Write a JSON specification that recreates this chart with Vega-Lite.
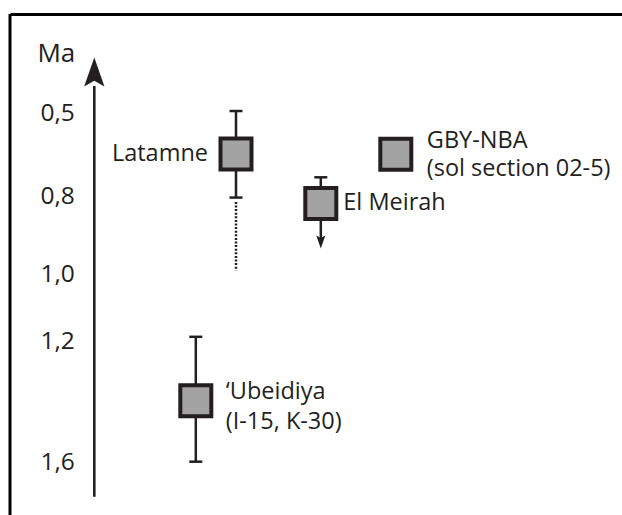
{
  "$schema": "https://vega.github.io/schema/vega-lite/v6.json",
  "width": 612,
  "height": 501,
  "padding": {"left": 10, "top": 14, "right": 0, "bottom": 0},
  "autosize": {"type": "none"},
  "background": "white",
  "config": {"view": {"stroke": null}, "font": "Open Sans"},
  "resolve": {"axis": {"x": "independent", "y": "independent"}},
  "datasets": {
    "sites": [
      {"site": "Latamne", "x": 4.52, "age": 0.647, "label": "Latamne"},
      {"site": "El Meirah", "x": 6.216, "age": 0.819, "label": "El Meirah"},
      {"site": "GBY-NBA", "x": 7.716, "age": 0.648, "label": ["GBY-NBA", "(sol section 02-5)"]},
      {"site": "Ubeidiya", "x": 3.716, "age": 1.397, "label": ["‘Ubeidiya", "(I-15, K-30)"]}
    ],
    "ranges": [
      {"site": "Latamne", "x": 4.52, "age": 0.491, "age2": 0.804},
      {"site": "El Meirah", "x": 6.216, "age": 0.732, "age2": 0.91},
      {"site": "Ubeidiya", "x": 3.716, "age": 1.186, "age2": 1.599}
    ],
    "caps": [
      {"site": "Latamne", "x": 4.52, "age": 0.491},
      {"site": "Latamne", "x": 4.52, "age": 0.804},
      {"site": "El Meirah", "x": 6.216, "age": 0.732},
      {"site": "Ubeidiya", "x": 3.716, "age": 1.186},
      {"site": "Ubeidiya", "x": 3.716, "age": 1.599}
    ],
    "extension": [
      {"site": "Latamne", "x": 4.52, "age": 0.815, "age2": 0.99}
    ],
    "limits": [
      {"site": "El Meirah", "x": 6.216, "age": 0.917}
    ]
  },
  "layer": [
    {
      "data": {"values": [{}]},
      "mark": {"type": "rule", "color": "#000000", "strokeWidth": 3},
      "encoding": {
        "x": {"datum": 0, "type": "quantitative",
          "scale": {"domain": [0, 12.24], "nice": false, "zero": false},
          "axis": {"orient": "top", "domain": true, "domainColor": "#000000", "domainWidth": 3, "ticks": false, "labels": false, "grid": false, "title": null}}
      }
    },
    {
      "data": {"values": [{}]},
      "mark": {"type": "rule", "color": "#231f20", "strokeWidth": 2.6},
      "encoding": {
        "x": {"datum": 1.686, "type": "quantitative", "scale": {"domain": [0, 12.24], "nice": false, "zero": false}, "axis": null},
        "y": {"datum": 1.715, "type": "quantitative", "scale": {"domain": [0.5, 0.8, 1.0, 1.2, 1.6], "range": [99.5, 182, 260.5, 327.5, 448], "nice": false, "zero": false}, "axis": null},
        "y2": {"datum": 0.4}
      }
    },
    {
      "data": {"values": [{}]},
      "mark": {"type": "point", "shape": "M0,-1L0.7,1L0,0.6L-0.7,1Z", "size": 841, "filled": true, "color": "#231f20", "opacity": 1},
      "encoding": {
        "x": {"datum": 1.686, "type": "quantitative", "scale": {"domain": [0, 12.24], "nice": false, "zero": false}, "axis": null},
        "y": {"datum": 0.349, "type": "quantitative", "scale": {"domain": [0.5, 0.8, 1.0, 1.2, 1.6], "range": [99.5, 182, 260.5, 327.5, 448], "nice": false, "zero": false}, "axis": null}
      }
    },
    {
      "data": {"name": "ranges"},
      "mark": {"type": "rule", "color": "#231f20", "strokeWidth": 2.5},
      "encoding": {
        "x": {"field": "x", "type": "quantitative", "scale": {"domain": [0, 12.24], "nice": false, "zero": false}, "axis": null},
        "y": {"field": "age", "type": "quantitative", "scale": {"domain": [0.5, 0.8, 1.0, 1.2, 1.6], "range": [99.5, 182, 260.5, 327.5, 448], "nice": false, "zero": false}, "axis": null},
        "y2": {"field": "age2"}
      }
    },
    {
      "data": {"name": "extension"},
      "mark": {"type": "rule", "color": "#231f20", "strokeWidth": 2.5, "strokeDash": [2, 1.6]},
      "encoding": {
        "x": {"field": "x", "type": "quantitative", "scale": {"domain": [0, 12.24], "nice": false, "zero": false}, "axis": null},
        "y": {"field": "age", "type": "quantitative", "scale": {"domain": [0.5, 0.8, 1.0, 1.2, 1.6], "range": [99.5, 182, 260.5, 327.5, 448], "nice": false, "zero": false}, "axis": null},
        "y2": {"field": "age2"}
      }
    },
    {
      "data": {"name": "caps"},
      "mark": {"type": "point", "shape": "M-1,0L1,0", "size": 169, "filled": false, "stroke": "#231f20", "strokeWidth": 2.5, "opacity": 1},
      "encoding": {
        "x": {"field": "x", "type": "quantitative", "scale": {"domain": [0, 12.24], "nice": false, "zero": false}, "axis": null},
        "y": {"field": "age", "type": "quantitative", "scale": {"domain": [0.5, 0.8, 1.0, 1.2, 1.6], "range": [99.5, 182, 260.5, 327.5, 448], "nice": false, "zero": false}, "axis": null}
      }
    },
    {
      "data": {"name": "limits"},
      "mark": {"type": "point", "shape": "M0,1L0.7,-1L0,-0.6L-0.7,-1Z", "size": 169, "filled": true, "color": "#231f20", "opacity": 1},
      "encoding": {
        "x": {"field": "x", "type": "quantitative", "scale": {"domain": [0, 12.24], "nice": false, "zero": false}, "axis": null},
        "y": {"field": "age", "type": "quantitative", "scale": {"domain": [0.5, 0.8, 1.0, 1.2, 1.6], "range": [99.5, 182, 260.5, 327.5, 448], "nice": false, "zero": false}, "axis": null}
      }
    },
    {
      "data": {"name": "sites"},
      "mark": {"type": "point", "shape": "square", "size": 961, "filled": true, "fill": "#a3a3a3", "stroke": "#231f20", "strokeWidth": 4, "opacity": 1},
      "encoding": {
        "x": {"field": "x", "type": "quantitative", "scale": {"domain": [0, 12.24], "nice": false, "zero": false}, "axis": null},
        "y": {"field": "age", "type": "quantitative", "scale": {"domain": [0.5, 0.8, 1.0, 1.2, 1.6], "range": [99.5, 182, 260.5, 327.5, 448], "nice": false, "zero": false},
          "axis": {"values": [0.5, 0.8, 1.0, 1.2, 1.6], "labelExpr": "replace(format(datum.value, '.1f'), '.', ',')", "domain": false, "ticks": false, "grid": false, "offset": -84.3, "labelPadding": 20, "labelFont": "Open Sans", "labelFontSize": 24.5, "labelColor": "#231f20", "labelFlush": false, "labelOverlap": false, "labelBaseline": "middle",
            "title": "Ma", "titleAngle": 0, "titleAlign": "right", "titleBaseline": "alphabetic", "titleX": -19.5, "titleY": 47, "titleFont": "Open Sans", "titleFontSize": 26, "titleFontWeight": "normal", "titleColor": "#231f20"}}
      }
    },
    {
      "data": {"name": "sites"},
      "transform": [{"filter": "datum.site === 'Latamne'"}],
      "mark": {"type": "text", "align": "right", "baseline": "middle", "dx": -28, "font": "Open Sans", "fontSize": 23.5, "color": "#231f20"},
      "encoding": {
        "x": {"field": "x", "type": "quantitative", "scale": {"domain": [0, 12.24], "nice": false, "zero": false}, "axis": null},
        "y": {"field": "age", "type": "quantitative", "scale": {"domain": [0.5, 0.8, 1.0, 1.2, 1.6], "range": [99.5, 182, 260.5, 327.5, 448], "nice": false, "zero": false}, "axis": null},
        "text": {"field": "label"}
      }
    },
    {
      "data": {"name": "sites"},
      "transform": [{"filter": "datum.site === 'El Meirah'"}],
      "mark": {"type": "text", "align": "left", "baseline": "middle", "dx": 22.5, "font": "Open Sans", "fontSize": 23.5, "color": "#231f20"},
      "encoding": {
        "x": {"field": "x", "type": "quantitative", "scale": {"domain": [0, 12.24], "nice": false, "zero": false}, "axis": null},
        "y": {"field": "age", "type": "quantitative", "scale": {"domain": [0.5, 0.8, 1.0, 1.2, 1.6], "range": [99.5, 182, 260.5, 327.5, 448], "nice": false, "zero": false}, "axis": null},
        "text": {"field": "label"}
      }
    },
    {
      "data": {"name": "sites"},
      "transform": [{"filter": "datum.site === 'GBY-NBA'"}],
      "mark": {"type": "text", "align": "left", "baseline": "middle", "dx": 31, "dy": -13, "lineHeight": 28, "font": "Open Sans", "fontSize": 23.5, "color": "#231f20"},
      "encoding": {
        "x": {"field": "x", "type": "quantitative", "scale": {"domain": [0, 12.24], "nice": false, "zero": false}, "axis": null},
        "y": {"field": "age", "type": "quantitative", "scale": {"domain": [0.5, 0.8, 1.0, 1.2, 1.6], "range": [99.5, 182, 260.5, 327.5, 448], "nice": false, "zero": false}, "axis": null},
        "text": {"field": "label"}
      }
    },
    {
      "data": {"name": "sites"},
      "transform": [{"filter": "datum.site === 'Ubeidiya'"}],
      "mark": {"type": "text", "align": "left", "baseline": "middle", "dx": 30, "dy": -9, "lineHeight": 30, "font": "Open Sans", "fontSize": 23.5, "color": "#231f20"},
      "encoding": {
        "x": {"field": "x", "type": "quantitative", "scale": {"domain": [0, 12.24], "nice": false, "zero": false}, "axis": null},
        "y": {"field": "age", "type": "quantitative", "scale": {"domain": [0.5, 0.8, 1.0, 1.2, 1.6], "range": [99.5, 182, 260.5, 327.5, 448], "nice": false, "zero": false}, "axis": null},
        "text": {"field": "label"}
      }
    }
  ]
}
